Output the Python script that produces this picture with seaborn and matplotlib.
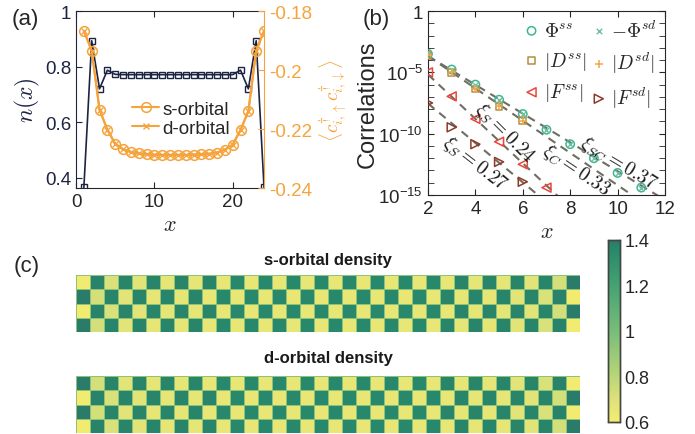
import numpy as np
import pandas as pd
import seaborn as sns
import matplotlib.pyplot as plt
from matplotlib.colors import LinearSegmentedColormap
from matplotlib.ticker import FixedLocator, NullFormatter

sns.set_style('ticks')
plt.rcParams['font.family'] = ['Liberation Sans', 'DejaVu Sans']
plt.rcParams['mathtext.fontset'] = 'cm'
plt.rcParams['axes.unicode_minus'] = False

# ---- panel (a): density and pairing along the chain
sites = list(range(1, 25))
n_x = [0.365, 0.893, 0.72, 0.787, 0.772, 0.771, 0.771, 0.771, 0.771, 0.771, 0.771, 0.771,
       0.771, 0.771, 0.771, 0.771, 0.771, 0.771, 0.771, 0.771, 0.787, 0.72, 0.893, 0.365]
pair_s = [-0.1868, -0.1934, -0.2135, -0.2202, -0.2250, -0.2269, -0.2278, -0.2283, -0.2286, -0.2287,
          -0.2288, -0.2288, -0.2288, -0.2288, -0.2287, -0.2286, -0.2284, -0.2280, -0.2270, -0.2253,
          -0.2203, -0.2140, -0.1934, -0.1868]
pair_d = pair_s

# ---- panel (b): correlations vs distance
dist_phi = [2, 3, 4, 5, 6, 7, 8, 9, 10, 11]
phi_ss = [3.2e-4, 1.7e-5, 1.0e-6, 5.9e-8, 4.0e-9, 2.1e-10, 1.4e-11, 1.0e-12, 6.3e-14, 4.0e-15]
phi_sd = phi_ss
dist_d = [2, 3, 4, 5, 6]
d_ss = [2.5e-4, 1.0e-5, 4.4e-7, 1.7e-8, 1.1e-9]
d_sd = d_ss
dist_fss = [2, 3, 4, 5, 6, 7]
f_ss = [1.0e-5, 1.1e-7, 1.6e-9, 2.2e-11, 3.2e-13, 4.0e-15]
dist_fsd = [2, 3, 4, 5, 6]
f_sd = [3.2e-8, 3.3e-10, 1.4e-11, 5.0e-13, 1.2e-14]

# fitted exponential decays  A*exp(-x/xi)
fit_xi = [0.37, 0.33, 0.24, 0.27]
fit_log10_amp = [-1.32, -1.04, -1.555, -4.32]
fit_x = [2, 12]
fit_labels = [r'$\xi_{SC}=0.37$', r'$\xi_{C}=0.33$', r'$\xi_{S}=0.24$', r'$\xi_{S}=0.27$']
label_x = [10.05, 8.27, 5.24, 3.97]
label_logy = [-12.35, -12.9, -9.9, -12.35]
label_rot = [-31, -34, -45, -38]

# ---- panel (c): orbital densities on the 4 x 36 lattice
s_row_a = [0.61, 1.38, 0.71, 1.37, 0.68, 1.37, 0.66, 1.37, 0.66, 1.37, 0.65, 1.36,
           0.65, 1.36, 0.65, 1.36, 0.65, 1.36, 0.65, 1.36, 0.65, 1.36, 0.65, 1.36,
           0.65, 1.36, 0.65, 1.37, 0.66, 1.37, 0.66, 1.37, 0.68, 1.37, 0.73, 1.42]
s_row_b = [1.42, 0.73, 1.37, 0.68, 1.37, 0.66, 1.37, 0.66, 1.37, 0.65, 1.36, 0.65,
           1.36, 0.65, 1.36, 0.65, 1.36, 0.65, 1.36, 0.65, 1.36, 0.65, 1.36, 0.65,
           1.36, 0.65, 1.37, 0.66, 1.37, 0.66, 1.37, 0.68, 1.37, 0.71, 1.38, 0.61]
d_row_a = s_row_b
d_row_b = s_row_a

navy = '#1c2442'
orange = '#f5a33c'
dark = '#262626'

fig = plt.figure(figsize=(6.95, 4.35), dpi=100)

# ================= (a)
ax_a = fig.add_axes([0.1094, 0.5655, 0.2705, 0.4069])
sns.lineplot(x=sites, y=n_x, ax=ax_a, color=navy, marker='s', markersize=4.5,
             markerfacecolor='none', markeredgecolor=navy, markeredgewidth=1.0, lw=1.2)
ax_a.set_xlim(0, 24)
ax_a.set_ylim(0.363, 1.0)
ax_a.set_xticks([0, 10, 20])
ax_a.set_yticks([0.4, 0.6, 0.8, 1])
ax_a.set_yticklabels(['0.4', '0.6', '0.8', '1'])
ax_a.tick_params(direction='in', top=True, length=4, labelsize=13.5, colors=dark)
ax_a.tick_params(axis='y', colors=navy, right=False)
ax_a.spines['left'].set_color(navy)
ax_a.spines['right'].set_visible(False)
for side in ['top', 'bottom']:
    ax_a.spines[side].set_color(dark)
ax_a.set_ylabel('$n(x)$', color=navy, fontsize=17, labelpad=2)
ax_a.set_xlabel('$x$', fontsize=16, labelpad=3)

ax_r = ax_a.twinx()
sns.lineplot(x=sites, y=pair_s, ax=ax_r, color=orange, marker='o', markersize=7,
             markerfacecolor='none', markeredgecolor=orange, markeredgewidth=1.1, lw=1.5,
             label='s-orbital')
sns.lineplot(x=sites, y=pair_d, ax=ax_r, color=orange, marker='x', markersize=4.5,
             markeredgecolor=orange, markeredgewidth=1.0, lw=1.5, label='d-orbital')
ax_r.set_ylim(-0.24, -0.18)
ax_r.set_yticks([-0.24, -0.22, -0.2, -0.18])
ax_r.set_yticklabels(['-0.24', '-0.22', '-0.2', '-0.18'])
ax_r.tick_params(axis='y', direction='in', length=4, labelsize=13.5, colors=orange)
for side in ['left', 'top', 'bottom']:
    ax_r.spines[side].set_visible(False)
ax_r.spines['right'].set_color(orange)
ax_r.set_ylabel(r'$\langle c^{\dagger}_{i,\uparrow}c^{\dagger}_{i,\downarrow}\rangle$',
                color=orange, fontsize=14, labelpad=4)
ax_r.legend(loc='center', bbox_to_anchor=(0.56, 0.39), frameon=False, fontsize=13.5,
            handlelength=1.4, handletextpad=0.2, labelspacing=0.1, borderpad=0)

# ================= (b)
ax_b = fig.add_axes([0.6158, 0.5494, 0.341, 0.423])
ax_b.set_yscale('log')
for amp, xi in zip(fit_log10_amp, fit_xi):
    fit_y = [10 ** amp * np.exp(-xv / xi) for xv in fit_x]
    sns.lineplot(x=fit_x, y=fit_y, ax=ax_b, color='#6e6e62', lw=1.5, dashes=(4, 3),
                 zorder=1)

sns.scatterplot(x=dist_phi, y=phi_ss, ax=ax_b, marker='o', s=36, facecolor='none',
                edgecolor='#3fb597', linewidth=1.1, label=r'$\Phi^{ss}$', zorder=3)
sns.scatterplot(x=dist_d, y=d_ss, ax=ax_b, marker='s', s=24, facecolor='none',
                edgecolor='#b38e3c', linewidth=1.1, label=r'$|D^{ss}|$', zorder=3)
sns.scatterplot(x=dist_fss, y=f_ss, ax=ax_b, marker='<', s=42, facecolor='none',
                edgecolor='#e8473a', linewidth=1.1, label=r'$|F^{ss}|$', zorder=3)
sns.scatterplot(x=dist_phi, y=phi_sd, ax=ax_b, marker='x', s=16, color='#70c09c',
                linewidth=1.0, label=r'$-\Phi^{sd}$', zorder=4)
sns.scatterplot(x=dist_d, y=d_sd, ax=ax_b, marker='+', s=30, color='#f5a548',
                linewidth=1.1, label=r'$|D^{sd}|$', zorder=4)
sns.scatterplot(x=dist_fsd, y=f_sd, ax=ax_b, marker='>', s=42, facecolor='none',
                edgecolor='#8c3a28', linewidth=1.1, label=r'$|F^{sd}|$', zorder=3)

for txt, lx, ly, rot in zip(fit_labels, label_x, label_logy, label_rot):
    ax_b.text(lx, 10 ** ly, txt, fontsize=14, rotation=rot, rotation_mode='anchor',
              ha='center', va='center', color='#1a1a1a')

ax_b.set_xlim(2, 12)
ax_b.set_ylim(1e-15, 1)
ax_b.set_xticks([2, 4, 6, 8, 10, 12])
ax_b.set_yticks([1e-15, 1e-10, 1e-5, 1])
ax_b.set_yticklabels([r'$\mathregular{10^{-15}}$', r'$\mathregular{10^{-10}}$',
                      r'$\mathregular{10^{-5}}$', '1'])
ax_b.yaxis.set_minor_locator(FixedLocator(10.0 ** np.arange(-15, 1)))
ax_b.yaxis.set_minor_formatter(NullFormatter())
ax_b.tick_params(which='both', direction='in', top=True, right=True, length=4,
                 labelsize=13.5, colors=dark)
for side in ax_b.spines.values():
    side.set_color(dark)
ax_b.set_ylabel('Correlations', fontsize=17, labelpad=0)
ax_b.set_xlabel('$x$', fontsize=16, labelpad=3)

h, l = ax_b.get_legend_handles_labels()
ax_b.legend(h, l, ncol=2, loc='upper right', bbox_to_anchor=(1.015, 1.02), frameon=False,
            fontsize=14, handlelength=0.7, handletextpad=0.3, columnspacing=0.25,
            labelspacing=0.5, borderpad=0.1)

# ================= (c)
cmap = LinearSegmentedColormap.from_list('yg', [(0.0, '#f3ed6f'), (0.125, '#dde27a'),
                                               (0.25, '#b9d677'), (0.5, '#78bd79'),
                                               (0.75, '#46a273'), (0.95, '#27896b'),
                                               (1.0, '#2a7b69')])
s_grid = pd.DataFrame([s_row_a, s_row_b, s_row_a, s_row_b])
d_grid = pd.DataFrame([d_row_a, d_row_b, d_row_a, d_row_b])

ax_s = fig.add_axes([0.1094, 0.2345, 0.7252, 0.131])
ax_d = fig.add_axes([0.1094, 0.0023, 0.7252, 0.131])
cax = fig.add_axes([0.8748, 0.0276, 0.0173, 0.4184])

sns.heatmap(s_grid, ax=ax_s, cmap=cmap, vmin=0.6, vmax=1.4, linewidths=0.5,
            linecolor='#8cc27a', xticklabels=False, yticklabels=False, cbar_ax=cax)
sns.heatmap(d_grid, ax=ax_d, cmap=cmap, vmin=0.6, vmax=1.4, linewidths=0.5,
            linecolor='#8cc27a', xticklabels=False, yticklabels=False, cbar=False)

cax.set_yticks([0.6, 0.8, 1.0, 1.2, 1.4])
cax.set_yticklabels(['0.6', '0.8', '1', '1.2', '1.4'])
cax.tick_params(direction='in', length=3, labelsize=13, colors=dark, pad=3)
for side in cax.spines.values():
    side.set_visible(True)
    side.set_color('#444444')
    side.set_linewidth(1.0)

fig.text(328 / 695, 1 - 260 / 435, 's-orbital density', ha='center', va='center',
         fontsize=12, fontweight='bold', color='#1a1a1a')
fig.text(328 / 695, 1 - 359 / 435, 'd-orbital density', ha='center', va='center',
         fontsize=12, fontweight='bold', color='#1a1a1a')

fig.text(12 / 695, 1 - 9 / 435, '(a)', fontsize=16, va='top', ha='left', color=dark)
fig.text(363 / 695, 1 - 9 / 435, '(b)', fontsize=16, va='top', ha='left', color=dark)
fig.text(14 / 695, 1 - 256 / 435, '(c)', fontsize=16, va='top', ha='left', color=dark)

fig.savefig('out.png', dpi=100)
